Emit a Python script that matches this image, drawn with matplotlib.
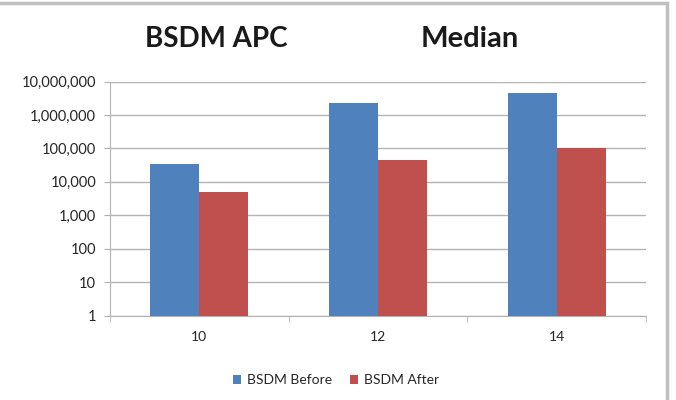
import matplotlib.pyplot as plt
import numpy as np
from matplotlib.patches import Rectangle
from matplotlib.ticker import FixedLocator, FuncFormatter, NullLocator

categories = ["10", "12", "14"]
before = [35000, 2300000, 4500000]
after = [5000, 46000, 103000]
series_names = ["BSDM Before", "BSDM After"]
y_ticks = [1, 10, 100, 1000, 10000, 100000, 1000000, 10000000]

plt.rcParams["font.family"] = ["Lato", "DejaVu Sans"]

fig = plt.figure(figsize=(6.76, 4.0), dpi=100)
ax = fig.add_axes([110 / 676, 1 - 315.5 / 400, 536 / 676, 234 / 400])

x = np.arange(len(categories))
w = 0.275
ax.bar(x - w / 2, before, w, bottom=1, color="#4F81BD", label=series_names[0], zorder=3)
ax.bar(x + w / 2, after, w, bottom=1, color="#C0504D", label=series_names[1], zorder=3)

ax.set_yscale("log")
ax.set_ylim(1, 1e7)
ax.set_xlim(-0.5, len(categories) - 0.5)
ax.yaxis.set_major_locator(FixedLocator(y_ticks))
ax.yaxis.set_minor_locator(NullLocator())
ax.yaxis.set_major_formatter(FuncFormatter(lambda v, p: f"{int(round(v)):,}"))
ax.grid(axis="y", color="#b3b3b3", linewidth=1, zorder=0)

ax.set_xticks(x)
ax.set_xticklabels(categories)
ax.set_xticks(np.arange(len(categories) + 1) - 0.5, minor=True)
ax.tick_params(axis="x", which="major", length=0, pad=11, labelsize=10,
               labelcolor="#262626")
ax.tick_params(axis="x", which="minor", length=4, color="#b3b3b3", direction="out")
ax.tick_params(axis="y", length=4, color="#b3b3b3", labelsize=10.5, pad=6,
               labelcolor="#262626")

for side in ("top", "right"):
    ax.spines[side].set_visible(False)
for side in ("left", "bottom"):
    ax.spines[side].set_color("#b3b3b3")

fig.text(216 / 676, 1 - 39 / 400, "BSDM APC", ha="center", va="center",
         fontsize=20, fontweight="bold", color="#1a1a1a")
fig.text(470 / 676, 1 - 39 / 400, "Median", ha="center", va="center",
         fontsize=21, fontweight="bold", color="#1a1a1a")

fig.legend(loc="center", bbox_to_anchor=(336 / 676, 1 - 380 / 400), ncol=2,
           frameon=False, fontsize=10, handlelength=0.6, handleheight=0.6,
           handletextpad=0.4, columnspacing=1.3, labelcolor="#262626")

fig.patches.append(Rectangle((-5 / 676, -0.05), 672 / 676, 1 - 2.5 / 400 + 0.05,
                             transform=fig.transFigure, fill=False,
                             edgecolor="#bfbfbf", linewidth=2.5))

fig.savefig("out.png", dpi=100)
